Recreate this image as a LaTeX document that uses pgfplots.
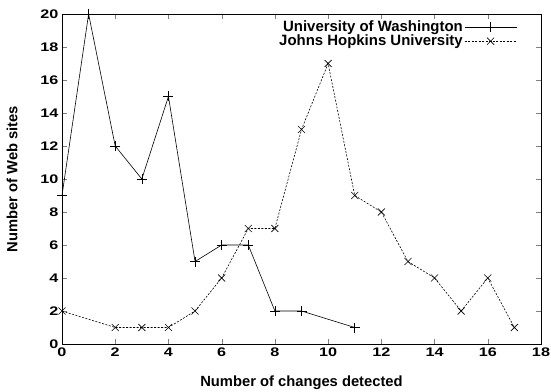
\documentclass[border=0pt]{standalone}
\usepackage{fontspec}
\setmainfont{Liberation Sans}
\usepackage{pgfplots}
\pgfplotsset{compat=1.18}
\newcommand{\tl}[1]{\scalebox{1.3}[1]{#1}}
\begin{document}
\begin{tikzpicture}[x=1bp,y=1bp]
\begin{axis}[
  at={(0,0)}, anchor=south west,
  scale only axis,
  width=479bp, height=330bp,
  xmin=0, xmax=18, ymin=0, ymax=20,
  xtick={0,2,...,18}, ytick={0,2,...,20},
  tick align=inside,
  major tick length=5bp,
  /pgf/number format/assume math mode=true,
  xticklabel={\tl{\pgfmathprintnumber{\tick}}},
  yticklabel={\tl{\pgfmathprintnumber{\tick}}},
  tick label style={font=\fontsize{12.5}{14}\selectfont\bfseries},
  label style={font=\fontsize{14.8}{16}\selectfont\bfseries},
  xlabel={Number of changes detected},
  ylabel={Number of Web sites},
  xlabel style={at={(axis description cs:0.5,-0.118)}, anchor=center},
  ylabel style={at={(axis description cs:-0.1044,0.5)}, anchor=center},
  axis line style={line width=0.8pt},
  legend style={draw=none, fill=none, at={(axis cs:17.1,20)}, anchor=north east,
    yshift=-5bp, font=\fontsize{15}{16}\selectfont\bfseries, row sep=-1bp, inner sep=0bp,
    nodes={inner sep=1.5bp}},
  legend cell align=right,
  legend plot pos=right,
  legend image code/.code={\draw[mark repeat=2,mark phase=2] plot coordinates {(0bp,0bp)(26bp,0bp)(52bp,0bp)};},
]
\addplot[black, line width=0.6pt, mark=+, mark size=5bp, mark options={solid}] coordinates {
(0,9)(1,20)(2,12)(3,10)(4,15)(5,5)(6,6)(7,6)(8,2)(9,2)(11,1)};
\addlegendentry{University of Washington}
\addplot[black, line width=0.6pt, dash pattern=on 2bp off 1.5bp, mark=x, mark size=5bp, mark options={solid}] coordinates {
(0,2)(2,1)(3,1)(4,1)(5,2)(6,4)(7,7)(8,7)(9,13)(10,17)(11,9)(12,8)(13,5)(14,4)(15,2)(16,4)(17,1)};
\addlegendentry{Johns Hopkins University}
\end{axis}
\pgfresetboundingbox
\path (-62bp,-48bp) rectangle (489bp,344bp);
\end{tikzpicture}
\end{document}
